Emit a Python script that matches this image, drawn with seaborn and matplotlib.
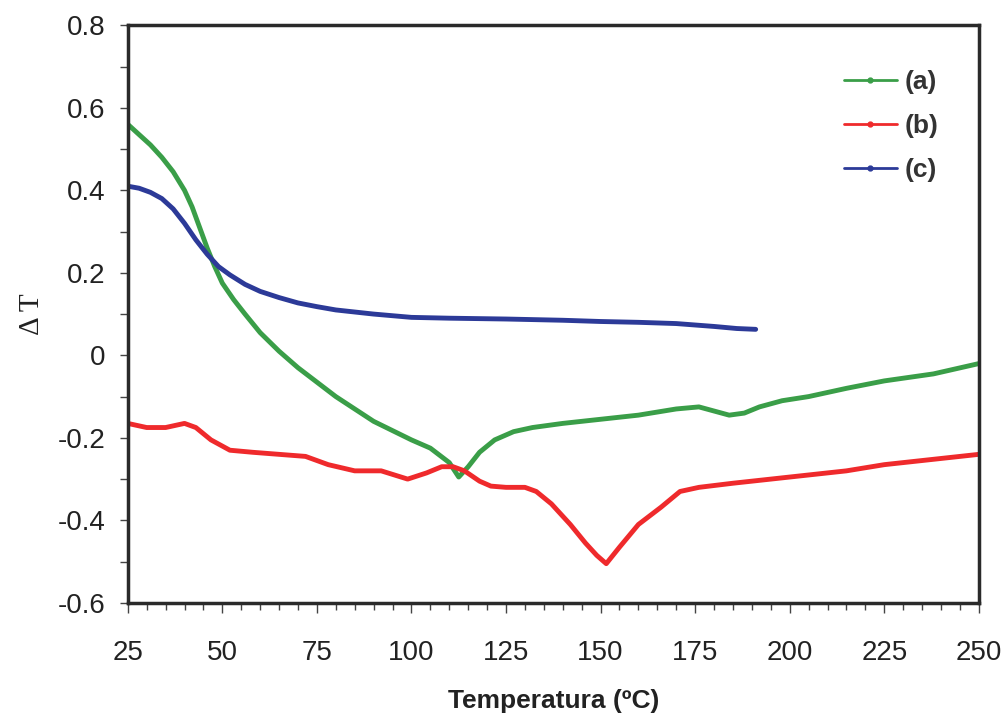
import matplotlib
matplotlib.use("Agg")
import matplotlib.pyplot as plt
import seaborn as sns
import pandas as pd
from matplotlib.lines import Line2D
from matplotlib.ticker import MultipleLocator

# Curve (a)
temp_a = [25, 28, 31, 34, 37, 40, 42, 44, 46, 48, 50, 53, 56, 60, 65, 70, 80, 90, 100, 105,
          110, 112.5, 115, 118, 122, 127, 132, 140, 150, 160, 170, 176, 180, 184, 188, 192,
          198, 205, 215, 225, 238, 250]
dt_a = [0.56, 0.535, 0.51, 0.48, 0.445, 0.40, 0.36, 0.31, 0.26, 0.215, 0.175, 0.135, 0.10,
        0.055, 0.01, -0.03, -0.10, -0.16, -0.205, -0.225, -0.26, -0.295, -0.27, -0.235,
        -0.205, -0.185, -0.175, -0.165, -0.155, -0.145, -0.13, -0.125, -0.135, -0.145, -0.14,
        -0.125, -0.11, -0.10, -0.08, -0.062, -0.045, -0.02]

# Curve (b)
temp_b = [25, 30, 35, 40, 43, 47, 52, 58, 65, 72, 78, 85, 92, 99, 104, 108, 111, 114, 118,
          121, 125, 130, 133, 137, 142, 146, 149, 151.5, 155, 160, 166, 171, 176, 185, 195,
          205, 215, 225, 235, 250]
dt_b = [-0.165, -0.175, -0.175, -0.165, -0.175, -0.205, -0.23, -0.235, -0.24, -0.245, -0.265,
        -0.28, -0.28, -0.30, -0.285, -0.27, -0.27, -0.28, -0.305, -0.317, -0.32, -0.32, -0.33,
        -0.36, -0.41, -0.455, -0.485, -0.505, -0.465, -0.41, -0.368, -0.33, -0.32, -0.31,
        -0.30, -0.29, -0.28, -0.265, -0.255, -0.24]

# Curve (c)
temp_c = [25, 28, 31, 34, 37, 40, 43, 46, 49, 52, 56, 60, 65, 70, 75, 80, 90, 100, 110, 125,
          140, 150, 160, 170, 180, 186, 191]
dt_c = [0.41, 0.405, 0.395, 0.38, 0.355, 0.32, 0.28, 0.245, 0.215, 0.195, 0.172, 0.155, 0.14,
        0.127, 0.118, 0.11, 0.10, 0.092, 0.09, 0.088, 0.085, 0.082, 0.08, 0.077, 0.07, 0.065,
        0.063]

labels = ["(a)", "(b)", "(c)"]
colors = ["#3a9e48", "#ef2a2c", "#2c3a98"]

curves = pd.concat([
    pd.DataFrame({"T": temp_a, "dT": dt_a, "curve": labels[0]}),
    pd.DataFrame({"T": temp_b, "dT": dt_b, "curve": labels[1]}),
    pd.DataFrame({"T": temp_c, "dT": dt_c, "curve": labels[2]}),
])

sns.set_style("ticks")
plt.rcParams["font.family"] = ["Liberation Sans", "DejaVu Sans"]

fig = plt.figure(figsize=(10.06, 7.22), dpi=100)
ax = fig.add_axes([0.127, 0.165, 0.846, 0.800])

sns.lineplot(data=curves, x="T", y="dT", hue="curve", palette=colors, sort=False,
             linewidth=3.5, legend=False, ax=ax)

ax.set_xlim(25, 250)
ax.set_ylim(-0.6, 0.8)
ax.set_xticks(range(25, 251, 25))
ax.set_yticks([-0.6, -0.4, -0.2, 0, 0.2, 0.4, 0.6, 0.8])
ax.set_yticklabels(["-0.6", "-0.4", "-0.2", "0", "0.2", "0.4", "0.6", "0.8"])
ax.xaxis.set_minor_locator(MultipleLocator(5))
ax.yaxis.set_minor_locator(MultipleLocator(0.1))
ax.tick_params(axis="both", which="both", direction="out", color="#444444", width=1,
               top=False, right=False)
ax.tick_params(axis="x", which="major", length=7, pad=20, labelsize=20, labelcolor="#222222")
ax.tick_params(axis="x", which="minor", length=5)
ax.tick_params(axis="y", which="major", length=6, pad=10, labelsize=20, labelcolor="#222222")
ax.tick_params(axis="y", which="minor", length=6)

for s in ax.spines.values():
    s.set_visible(True)
    s.set_color("#2a2a2a")
    s.set_linewidth(2.5)

ax.set_xlabel("Temperatura (ºC)", fontsize=19, fontweight="bold", color="#222222", labelpad=16)
ax.set_ylabel("Δ T", fontsize=21, family=["Liberation Serif", "DejaVu Serif"],
              color="#222222", labelpad=9)

handles = [Line2D([0], [0], color=c, lw=2, marker="o", markersize=3.5) for c in colors]
ax.legend(handles, labels, loc="upper right", bbox_to_anchor=(0.968, 0.945), frameon=False,
          prop={"size": 19, "weight": "bold"}, handlelength=2.0, handletextpad=0.3,
          labelspacing=0.75, borderpad=0)
for t in ax.get_legend().get_texts():
    t.set_color("#333333")

plt.savefig("out.png", dpi=100)
